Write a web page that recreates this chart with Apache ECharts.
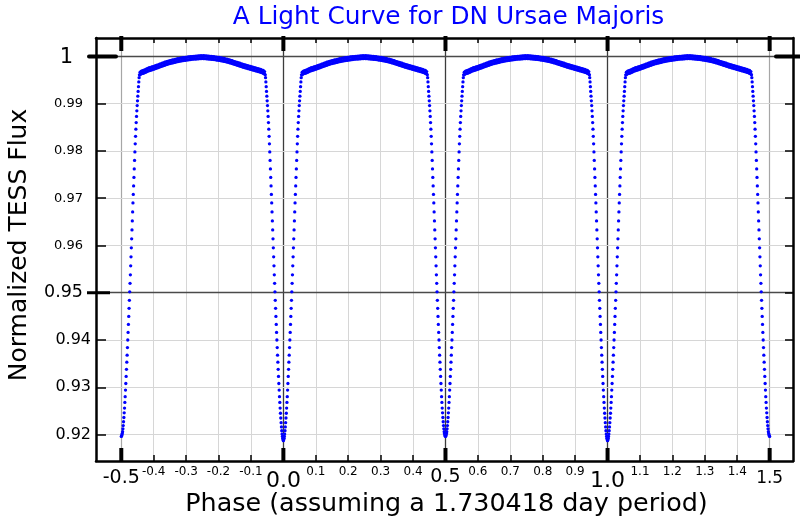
<!DOCTYPE html>
<html>
<head>
<meta charset="utf-8">
<script src="https://cdn.jsdelivr.net/npm/echarts@6/dist/echarts.min.js"></script>
<style>html,body{margin:0;padding:0;background:#fff}#chart{width:800px;height:520px}</style>
</head>
<body>
<div id="chart"></div>
<script>
// ---------------- data ----------------
const titleText = 'A Light Curve for DN Ursae Majoris';
const xName = 'Phase (assuming a 1.730418 day period)';
const yName = 'Normalized TESS Flux';

const xTickValues = [-0.5,-0.4,-0.3,-0.2,-0.1,0.0,0.1,0.2,0.3,0.4,0.5,0.6,0.7,0.8,0.9,1.0,1.1,1.2,1.3,1.4,1.5];
const xTickLabels = ['-0.5','-0.4','-0.3','-0.2','-0.1','0.0','0.1','0.2','0.3','0.4','0.5','0.6','0.7','0.8','0.9','1.0','1.1','1.2','1.3','1.4','1.5'];
const xMajorTicks = [-0.5, 0.0, 0.5, 1.0, 1.5];
const xDarkGrid = [0.0, 0.5, 1.0];
const yTickValues = [0.92,0.93,0.94,0.95,0.96,0.97,0.98,0.99,1.0];
const yTickLabels = ['0.92','0.93','0.94','0.95','0.96','0.97','0.98','0.99','1'];
const yMajorTicks = [0.95, 1.0];

// eclipse profile: flux at distance (phase) from eclipse centre
const eclipseOffset = [0.000,0.001,0.002,0.003,0.004,0.005,0.006,0.007,0.008,0.009,
  0.010,0.011,0.012,0.013,0.014,0.015,0.016,0.017,0.018,0.019,
  0.020,0.021,0.022,0.023,0.024,0.025,0.026,0.027,0.028,0.029,
  0.030,0.031,0.032,0.033,0.034,0.035,0.036,0.037,0.038,0.039,
  0.040,0.041,0.042,0.043,0.044,0.045,0.046,0.047,0.048,0.049,
  0.050,0.051,0.052,0.053,0.054,0.055,0.056];
const primaryFlux = [0.9187,0.9189,0.9192,0.9196,0.9201,0.9208,0.9216,0.9225,0.9235,0.9245,
  0.9256,0.9268,0.9280,0.9294,0.9308,0.9323,0.9338,0.9353,0.9368,0.9384,
  0.9400,0.9416,0.9433,0.9450,0.9467,0.9484,0.9502,0.9520,0.9538,0.9557,
  0.9576,0.9595,0.9614,0.9633,0.9652,0.9671,0.9690,0.9708,0.9726,0.9744,
  0.9762,0.9780,0.9798,0.9815,0.9831,0.9846,0.9860,0.9873,0.9885,0.9896,
  0.9906,0.9916,0.9926,0.9936,0.9946,0.9955,0.9961];
const secondaryFlux = [0.9196,0.9197,0.9199,0.9202,0.9206,0.9212,0.9219,0.9227,0.9236,0.9246,
  0.9256,0.9268,0.9280,0.9294,0.9308,0.9323,0.9338,0.9353,0.9368,0.9384,
  0.9400,0.9416,0.9433,0.9450,0.9467,0.9484,0.9502,0.9520,0.9538,0.9557,
  0.9576,0.9595,0.9614,0.9633,0.9652,0.9671,0.9690,0.9708,0.9726,0.9744,
  0.9762,0.9780,0.9798,0.9815,0.9831,0.9846,0.9860,0.9873,0.9885,0.9896,
  0.9906,0.9916,0.9926,0.9936,0.9946,0.9955,0.9961];
const primaryCenters = [0.0, 1.0];
const secondaryCenters = [-0.5, 0.5, 1.5];

// out-of-eclipse dome (phase after an eclipse), upper and lower edge of the scatter band
const domePhase = [0.058,0.062,0.066,0.070,0.074,0.078,0.082,0.086,0.090,0.094,
  0.098,0.102,0.106,0.110,0.114,0.118,0.122,0.126,0.130,0.134,
  0.138,0.142,0.146,0.150,0.154,0.158,0.162,0.166,0.170,0.174,
  0.178,0.182,0.186,0.190,0.194,0.198,0.202,0.206,0.210,0.214,
  0.218,0.222,0.226,0.230,0.234,0.238,0.242,0.246,0.250,0.254,
  0.258,0.262,0.266,0.270,0.274,0.278,0.282,0.286,0.290,0.294,
  0.298,0.302,0.306,0.310,0.314,0.318,0.322,0.326,0.330,0.334,
  0.338,0.342,0.346,0.350,0.354,0.358,0.362,0.366,0.370,0.374,
  0.378,0.382,0.386,0.390,0.394,0.398,0.402,0.406,0.410,0.414,
  0.418,0.422,0.426,0.430,0.434,0.438,0.442];
const domeUpper = [0.99665,0.99688,0.99697,0.99712,0.99720,0.99736,0.99748,0.99762,0.99763,0.99778,
  0.99783,0.99797,0.99803,0.99818,0.99822,0.99837,0.99842,0.99858,0.99862,0.99877,
  0.99882,0.99896,0.99901,0.99912,0.99914,0.99925,0.99927,0.99938,0.99940,0.99951,
  0.99953,0.99963,0.99964,0.99973,0.99973,0.99981,0.99981,0.99989,0.99989,0.99997,
  0.99996,1.00003,1.00002,1.00008,1.00006,1.00012,1.00010,1.00015,1.00012,1.00015,
  1.00010,1.00012,1.00006,1.00008,1.00001,1.00002,0.99995,0.99995,0.99987,0.99987,
  0.99979,0.99978,0.99969,0.99968,0.99958,0.99956,0.99945,0.99942,0.99930,0.99926,
  0.99914,0.99910,0.99897,0.99892,0.99879,0.99874,0.99861,0.99856,0.99843,0.99838,
  0.99825,0.99821,0.99809,0.99805,0.99793,0.99789,0.99777,0.99773,0.99761,0.99757,
  0.99745,0.99741,0.99729,0.99725,0.99711,0.99703,0.99680];
const domeLower = [0.99612,0.99633,0.99641,0.99648,0.99661,0.99675,0.99689,0.99698,0.99707,0.99714,
  0.99727,0.99734,0.99746,0.99753,0.99766,0.99774,0.99786,0.99793,0.99806,0.99813,
  0.99826,0.99834,0.99845,0.99849,0.99858,0.99863,0.99872,0.99876,0.99885,0.99889,
  0.99898,0.99901,0.99909,0.99911,0.99918,0.99919,0.99926,0.99927,0.99934,0.99935,
  0.99941,0.99941,0.99947,0.99946,0.99951,0.99950,0.99955,0.99953,0.99957,0.99953,
  0.99955,0.99950,0.99951,0.99946,0.99946,0.99940,0.99940,0.99933,0.99932,0.99925,
  0.99924,0.99916,0.99914,0.99906,0.99903,0.99894,0.99890,0.99880,0.99875,0.99864,
  0.99859,0.99848,0.99842,0.99830,0.99824,0.99812,0.99806,0.99794,0.99788,0.99776,
  0.99770,0.99759,0.99754,0.99743,0.99738,0.99727,0.99722,0.99711,0.99706,0.99695,
  0.99690,0.99679,0.99674,0.99663,0.99656,0.99641,0.99628];
const domeStarts = [-0.5, 0.0, 0.5, 1.0];

// ---------------- build the point table ----------------
const points = [];
function addEclipse(c, flux) {
  for (let i = 0; i < eclipseOffset.length; i++) {
    const o = eclipseOffset[i], f = flux[i];
    if (c - o >= -0.5 - 1e-9) points.push([c - o, f]);
    if (o > 0 && c + o <= 1.5 + 1e-9) points.push([c + o, f]);
  }
}
primaryCenters.forEach(c => addEclipse(c, primaryFlux));
secondaryCenters.forEach(c => addEclipse(c, secondaryFlux));
domeStarts.forEach(s => {
  const n = Math.min(domePhase.length, domeUpper.length, domeLower.length);
  for (let i = 0; i < n; i++) {
    points.push([s + domePhase[i], domeUpper[i]]);
    points.push([s + domePhase[i], domeLower[i]]);
  }
});

// ---------------- styling ----------------
const FONT = '"DejaVu Sans", Verdana, sans-serif';
function idx(arr, v) { for (let i = 0; i < arr.length; i++) if (Math.abs(arr[i] - v) < 1e-6) return i; return -1; }
const xLabelStyle = {'-0.5': 'a', '0.0': 'b', '0.5': 'c', '1.0': 'b', '1.5': 'd'};
const yLabelStyle = {'1': 'o', '0.95': 'm', '0.94': 't', '0.93': 't', '0.92': 't'};

const XMIN = -0.578, XMAX = 1.572, YMIN = 0.9144, YMAX = 1.0039;

const gridLines = [];
xTickValues.forEach(v => {
  let color = '#d6d6d6', width = 1;
  if (idx(xDarkGrid, v) >= 0) { color = '#3c3c3c'; width = 1.3; }
  else if (idx(xMajorTicks, v) >= 0) { color = '#a6a6a6'; width = 1.2; }
  gridLines.push({xAxis: v, lineStyle: {color: color, width: width, type: 'solid'}});
});
yTickValues.forEach(v => {
  let color = '#d6d6d6', width = 1;
  if (idx(yMajorTicks, v) >= 0) { color = '#4a4a4a'; width = 1.3; }
  gridLines.push({yAxis: v, lineStyle: {color: color, width: width, type: 'solid'}});
});

const off = {show: false};
const frame = {show: true, onZero: false, lineStyle: {color: '#000', width: 2.5}};
function tick(values, len) {
  return {show: true, inside: true, length: len, customValues: values,
    lineStyle: {color: '#000', width: 1.5}};
}

const texts = [
  {type: 'text', id: 'title', x: 448.5, y: 17.5, z: 20,
    style: {text: titleText, fill: '#0000ff', font: '24.8px ' + FONT,
      align: 'center', verticalAlign: 'middle', textAlign: 'center', textVerticalAlign: 'middle'}},
  {type: 'text', id: 'xname', x: 446.5, y: 504.5, z: 20,
    style: {text: xName, fill: '#000', font: '25.4px ' + FONT,
      align: 'center', verticalAlign: 'middle', textAlign: 'center', textVerticalAlign: 'middle'}},
  {type: 'text', id: 'yname', x: 19.5, y: 245, rotation: Math.PI / 2, z: 20,
    style: {text: yName, fill: '#000', font: '25px ' + FONT,
      align: 'center', verticalAlign: 'middle', textAlign: 'center', textVerticalAlign: 'middle'}}
];

const chart = echarts.init(document.getElementById('chart'), null, {renderer: 'canvas'});
chart.setOption({
  animation: false,
  backgroundColor: '#ffffff',
  grid: {left: 96, right: 7, top: 38, bottom: 59, containLabel: false, outerBoundsMode: 'none'},
  graphic: {elements: texts},
  xAxis: [
    {type: 'value', min: XMIN, max: XMAX, position: 'bottom', z: 10, splitLine: off,
      axisLine: frame, axisTick: tick(xTickValues, 6),
      axisLabel: {show: true, margin: 5, customValues: xTickValues, color: '#000', fontFamily: FONT,
        formatter: function (v) {
          const i = idx(xTickValues, v); if (i < 0) return '';
          const t = xTickLabels[i]; return '{' + (xLabelStyle[t] || 'n') + '|' + t + '}';
        },
        rich: {
          n: {fontSize: 12, fontFamily: FONT, color: '#000'},
          a: {fontSize: 19, fontFamily: FONT, color: '#000', padding: [3, 0, 0, 0]},
          b: {fontSize: 22, fontFamily: FONT, color: '#000', padding: [4, 0, 0, 0]},
          c: {fontSize: 19, fontFamily: FONT, color: '#000', padding: [2, 0, 0, 0]},
          d: {fontSize: 17, fontFamily: FONT, color: '#000', padding: [4, 0, 0, 0]}
        }}},
    {type: 'value', min: XMIN, max: XMAX, position: 'top', z: 10, splitLine: off,
      axisLine: frame, axisTick: tick(xTickValues, 5), axisLabel: off}
  ],
  yAxis: [
    {type: 'value', min: YMIN, max: YMAX, position: 'left', z: 10, splitLine: off,
      axisLine: frame, axisTick: tick(yTickValues, 10),
      axisLabel: {show: true, margin: 5, customValues: yTickValues, color: '#000', fontFamily: FONT,
        formatter: function (v) {
          const i = idx(yTickValues, v); if (i < 0) return '';
          const t = yTickLabels[i]; return '{' + (yLabelStyle[t] || 's') + '|' + t + '}';
        },
        rich: {
          s: {fontSize: 13, fontFamily: FONT, color: '#000', padding: [0, 8, 0, 0]},
          t: {fontSize: 16, fontFamily: FONT, color: '#000', padding: [0, 0, 0, 0]},
          m: {fontSize: 17.5, fontFamily: FONT, color: '#000', padding: [0, 8, 0, 0]},
          o: {fontSize: 21, fontFamily: FONT, color: '#000', padding: [3, 18, 0, 0]}
        }}},
    {type: 'value', min: YMIN, max: YMAX, position: 'right', z: 10, splitLine: off,
      axisLine: frame, axisTick: tick(yTickValues, 8), axisLabel: off}
  ],
  series: [
    {type: 'line', xAxisIndex: 0, yAxisIndex: 0, data: [], z: 1, silent: true,
      markLine: {silent: true, symbol: 'none', animation: false, z: 1,
        label: {show: false}, emphasis: {disabled: true}, data: gridLines}},
    {type: 'scatter', xAxisIndex: 0, yAxisIndex: 0, data: points, z: 3, silent: true,
      symbol: 'circle', symbolSize: 3.3, large: false, progressive: 0,
      itemStyle: {color: '#0000ff', opacity: 1}}
  ]
});

// thick major ticks, placed through the chart's own axis scales
const px = v => chart.convertToPixel({xAxisIndex: 0}, v);
const py = v => chart.convertToPixel({yAxisIndex: 0}, v);
const L = px(XMIN), R = px(XMAX), T = py(YMAX), B = py(YMIN);
const tickEls = [];
function seg(id, x1, y1, x2, y2, w, cap) {
  tickEls.push({type: 'line', id: id, z: 30, silent: true,
    shape: {x1: x1, y1: y1, x2: x2, y2: y2},
    style: {stroke: '#000', lineWidth: w, lineCap: cap || 'butt'}});
}
xMajorTicks.forEach((v, i) => {
  const x = px(v);
  seg('tb' + i, x, B, x, B - 13, 4);
  seg('tt' + i, x, T - 2, x, T + 13, 4);
});
seg('yl1', L - 7, py(1.0), L + 20, py(1.0), 4, 'round');
seg('yl95', L - 9, py(0.95), L + 14, py(0.95), 3);
seg('yr1', R - 17, py(1.0), R + 7, py(1.0), 4, 'round');
chart.setOption({graphic: {elements: texts.concat(tickEls)}});
</script>
</body>
</html>
